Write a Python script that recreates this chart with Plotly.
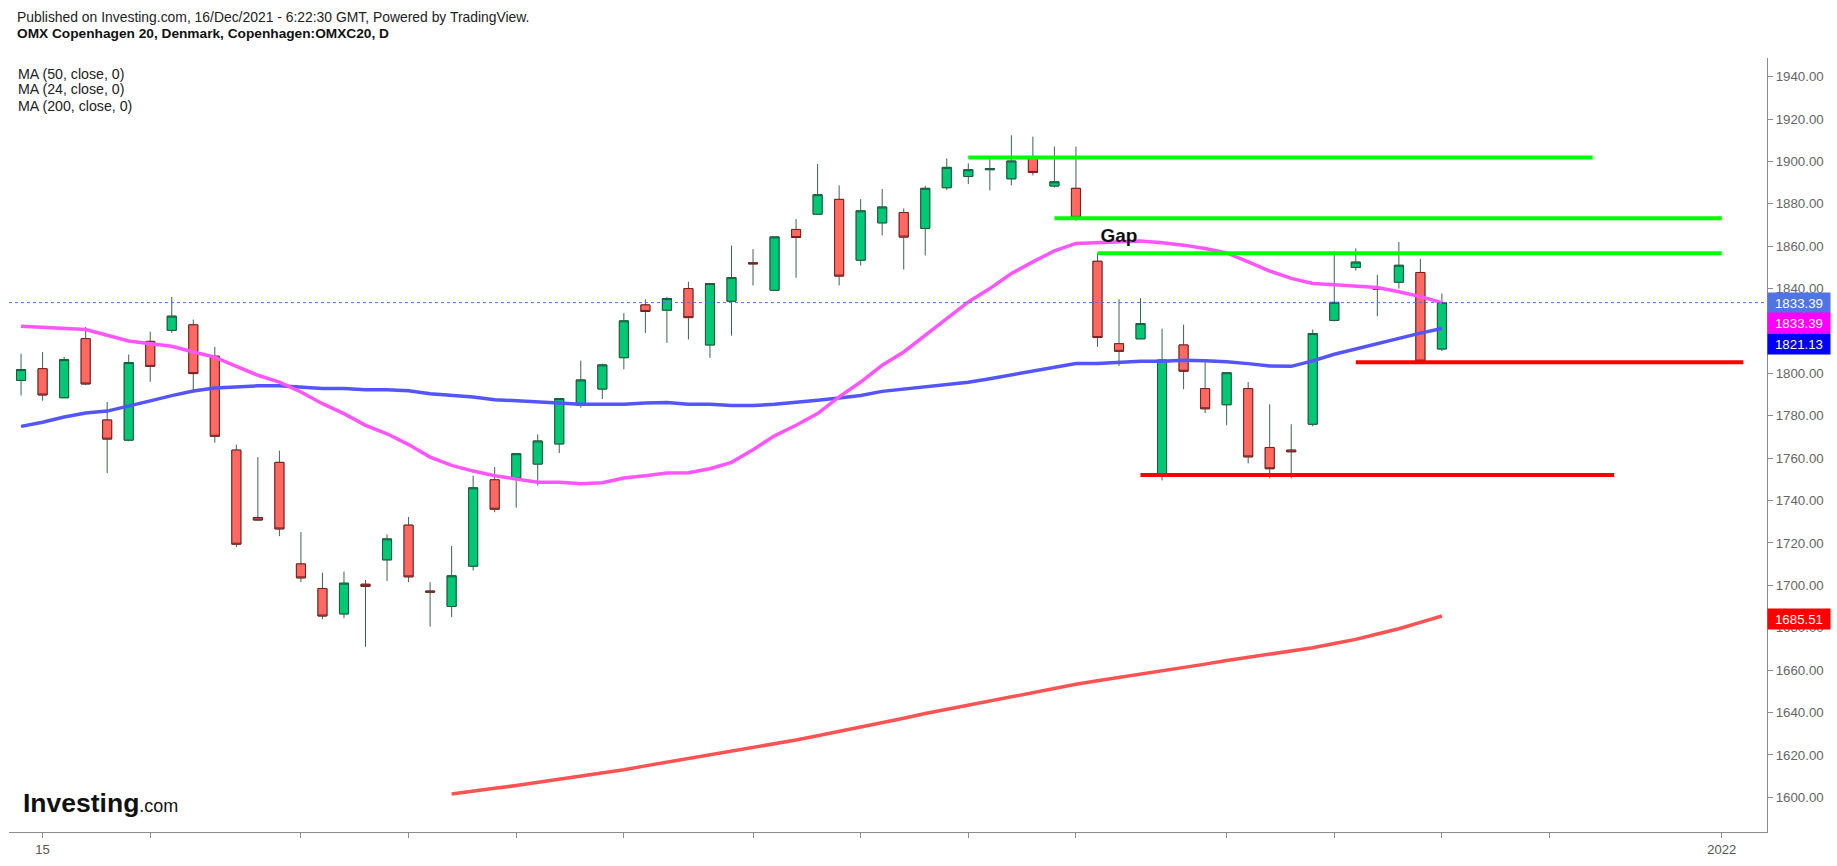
import pandas as pd
import plotly.graph_objects as go

# trading days shown on the chart, plus the empty days to the right of the last candle
dates = pd.bdate_range("2021-09-14", "2021-12-15").strftime("%Y-%m-%d").tolist()
future_dates = pd.bdate_range("2021-12-16", "2022-01-05").strftime("%Y-%m-%d").tolist()

open_ = [1796.7, 1802.2, 1788.5, 1816.4, 1778.0, 1768.5, 1815.1, 1820.3, 1822.9, 1808.1,
         1763.8, 1732.0, 1758.0, 1710.1, 1698.5, 1686.5, 1700.5, 1712.0, 1728.4, 1697.3,
         1690.0, 1709.0, 1749.8, 1750.7, 1757.2, 1766.7, 1784.9, 1792.6, 1807.4, 1832.3,
         1829.8, 1840.0, 1813.4, 1834.0, 1852.2, 1839.2, 1867.9, 1875.1, 1882.1, 1853.4,
         1871.0, 1875.9, 1868.4, 1887.6, 1892.9, 1896.1, 1891.8, 1901.4, 1888.4, 1887.3,
         1852.9, 1814.0, 1816.3, 1752.0, 1813.4, 1792.8, 1785.2, 1792.8, 1765.0, 1763.8,
         1776.0, 1825.0, 1850.0, 1840.3, 1843.0, 1847.6, 1811.5]
high = [1809.3, 1810.1, 1807.8, 1821.9, 1786.5, 1808.9, 1819.7, 1836.1, 1825.4, 1812.5,
        1766.3, 1760.5, 1763.5, 1725.1, 1706.0, 1706.5, 1702.5, 1724.0, 1732.2, 1701.5,
        1718.5, 1751.7, 1755.8, 1762.1, 1771.2, 1788.1, 1806.0, 1804.6, 1828.4, 1835.0,
        1836.1, 1843.2, 1842.4, 1860.3, 1858.6, 1864.4, 1872.8, 1898.8, 1888.7, 1882.2,
        1887.0, 1877.8, 1888.5, 1901.4, 1899.1, 1901.4, 1912.3, 1911.7, 1907.0, 1907.0,
        1856.6, 1835.0, 1835.5, 1821.1, 1823.0, 1805.3, 1800.3, 1795.9, 1785.4, 1776.0,
        1820.7, 1857.5, 1859.0, 1846.5, 1862.0, 1854.0, 1837.7]
low = [1789.5, 1787.1, 1788.3, 1794.4, 1752.9, 1768.0, 1796.0, 1819.1, 1791.2, 1767.3,
       1718.0, 1730.5, 1723.2, 1701.5, 1684.0, 1684.5, 1671.0, 1702.0, 1701.5, 1680.5,
       1685.0, 1707.0, 1734.5, 1736.6, 1747.0, 1762.4, 1783.8, 1787.9, 1801.9, 1819.1,
       1814.4, 1816.0, 1807.3, 1817.8, 1841.5, 1839.2, 1845.1, 1874.7, 1841.5, 1850.9,
       1865.1, 1849.0, 1855.6, 1886.5, 1889.3, 1886.3, 1888.7, 1893.4, 1887.7, 1872.0,
       1812.5, 1803.5, 1816.3, 1749.5, 1792.5, 1781.3, 1775.5, 1757.5, 1750.5, 1750.5,
       1775.0, 1824.5, 1848.5, 1827.0, 1840.0, 1805.0, 1810.5]
close = [1801.8, 1789.8, 1806.5, 1795.0, 1769.0, 1805.1, 1803.3, 1827.0, 1799.9, 1770.3,
         1719.4, 1730.8, 1726.6, 1703.5, 1685.5, 1701.0, 1699.5, 1721.9, 1704.0, 1696.8,
         1704.5, 1746.0, 1735.9, 1762.1, 1768.1, 1788.1, 1796.9, 1804.0, 1824.8, 1829.2,
         1835.3, 1826.3, 1842.4, 1845.2, 1851.7, 1864.4, 1864.1, 1884.3, 1845.9, 1876.7,
         1878.5, 1864.3, 1887.3, 1897.2, 1896.1, 1896.6, 1900.2, 1894.8, 1890.4, 1873.6,
         1816.9, 1810.4, 1823.5, 1806.3, 1801.0, 1783.3, 1800.3, 1760.6, 1755.0, 1763.0,
         1818.8, 1833.5, 1852.5, 1839.8, 1851.0, 1805.8, 1833.39]

ma24 = [1822.2, 1821.6, 1821.1, 1820.7, 1818.0, 1815.3, 1814.0, 1812.8, 1810.1, 1807.7,
        1803.3, 1799.1, 1795.9, 1791.2, 1785.7, 1781.0, 1775.5, 1771.5, 1766.4, 1760.5,
        1756.6, 1753.9, 1751.7, 1750.3, 1748.6, 1748.6, 1747.9, 1748.4, 1750.6, 1751.7,
        1753.0, 1753.1, 1755.0, 1758.0, 1764.0, 1770.5, 1775.5, 1781.0, 1788.9, 1795.9,
        1803.8, 1810.1, 1818.0, 1825.9, 1833.7, 1840.0, 1847.1, 1852.6, 1857.8, 1861.3,
        1861.8, 1862.2, 1862.5, 1861.6, 1860.5, 1858.9, 1856.8, 1852.6, 1848.3, 1844.8,
        1842.4, 1841.8, 1841.3, 1840.5, 1838.5, 1836.2, 1833.39]
ma50 = [1775.0, 1776.9, 1779.4, 1781.3, 1782.2, 1784.4, 1787.0, 1789.5, 1791.7, 1793.1,
        1793.6, 1794.1, 1794.1, 1793.6, 1792.8, 1792.8, 1792.3, 1792.3, 1791.8, 1790.4,
        1789.8, 1788.9, 1787.6, 1787.0, 1786.2, 1785.7, 1785.4, 1785.4, 1785.4, 1786.0,
        1786.2, 1785.4, 1785.4, 1784.8, 1784.8, 1785.4, 1786.2, 1787.3, 1788.4, 1789.6,
        1791.5, 1792.6, 1793.6, 1794.7, 1795.8, 1797.5, 1799.2, 1801.1, 1803.0, 1804.6,
        1804.6, 1805.2, 1805.7, 1805.7, 1806.2, 1805.9, 1805.5, 1804.6, 1803.5, 1803.3,
        1805.9, 1809.0, 1811.5, 1814.0, 1816.8, 1819.0, 1821.13]
# the 200-day average only starts at the 21st candle
ma200_dates = dates[20:]
ma200 = [1601.5, 1603.0, 1604.2, 1605.5, 1607.0, 1608.3, 1610.0, 1611.6, 1613.0, 1614.8,
         1616.5, 1618.2, 1620.0, 1621.7, 1623.5, 1625.3, 1627.0, 1629.0, 1631.0, 1633.0,
         1635.2, 1637.3, 1639.5, 1641.5, 1643.5, 1645.5, 1647.5, 1649.5, 1651.5, 1653.3,
         1655.0, 1656.5, 1658.0, 1659.5, 1661.0, 1662.8, 1664.5, 1666.0, 1667.5, 1669.0,
         1670.5, 1672.5, 1674.5, 1677.0, 1679.5, 1682.5, 1685.51]

# drawn support / resistance levels: (from, to, price)
green_levels = [("2021-11-15", "2021-12-24", 1901.9),
                ("2021-11-19", "2022-01-03", 1873.2),
                ("2021-11-23", "2022-01-03", 1856.7)]
red_levels = [("2021-11-25", "2021-12-27", 1752.0),
              ("2021-12-09", "2022-01-04", 1805.2)]
gap_date, gap_price = "2021-11-24", 1864.4

tick_dates = ["2021-09-15", "2021-09-22", "2021-10-01", "2021-10-08", "2021-10-15",
              "2021-10-22", "2021-11-01", "2021-11-08", "2021-11-15", "2021-11-22",
              "2021-12-01", "2021-12-08", "2021-12-15", "2021-12-22", "2022-01-03"]
tick_text = ["15", "", "", "", "", "", "", "", "", "", "", "", "", "", "2022"]

UP, DOWN = "#00c875", "#ff6961"
UP_EDGE, DOWN_EDGE = "#1d5c3e", "#7a1e1e"
WICK = "#3a6550"

W, H = 1837, 866
L, R, T, B = 9, 70, 58, 32


def px(x):
    return (x - L) / (W - L - R)


def py(y):
    return (H - B - y) / (H - T - B)


fig = go.Figure()

fig.add_trace(go.Scatter(x=ma200_dates, y=ma200, mode="lines", line=dict(color="#ff5252", width=3.5)))
fig.add_trace(go.Scatter(x=dates, y=ma50, mode="lines", line=dict(color="#5555ff", width=3.5)))
fig.add_trace(go.Scatter(x=dates, y=ma24, mode="lines", line=dict(color="#ff55ff", width=3.5)))

# full candles (wicks), then bodies on top with their own outline
fig.add_trace(go.Candlestick(
    x=dates, open=open_, high=high, low=low, close=close,
    increasing=dict(line=dict(color=WICK, width=1), fillcolor=UP),
    decreasing=dict(line=dict(color=WICK, width=1), fillcolor=DOWN),
))
body_hi = [max(o, c) for o, c in zip(open_, close)]
body_lo = [min(o, c) for o, c in zip(open_, close)]
fig.add_trace(go.Candlestick(
    x=dates, open=open_, high=body_hi, low=body_lo, close=close,
    increasing=dict(line=dict(color=UP_EDGE, width=1), fillcolor=UP),
    decreasing=dict(line=dict(color=DOWN_EDGE, width=1), fillcolor=DOWN),
))

for x0, x1, p in green_levels:
    fig.add_trace(go.Scatter(x=[x0, x1], y=[p, p], mode="lines", line=dict(color="#00ff00", width=4)))
for x0, x1, p in red_levels:
    fig.add_trace(go.Scatter(x=[x0, x1], y=[p, p], mode="lines", line=dict(color="#ff0000", width=4)))

fig.add_trace(go.Scatter(x=[gap_date], y=[gap_price], mode="text", text=["<b>Gap</b>"],
                         textposition="middle center", textfont=dict(size=19, color="#111")))

# last price line
fig.add_shape(type="line", xref="paper", x0=0, x1=1, y0=close[-1], y1=close[-1],
              line=dict(color="#4a6fe3", width=1, dash="dot"))

annotations = [
    dict(text="Published on Investing.com, 16/Dec/2021 - 6:22:30 GMT, Powered by TradingView.",
         x=px(15), y=py(17), font=dict(size=13.9, color="#222")),
    dict(text="<b>OMX Copenhagen 20, Denmark, Copenhagen:OMXC20, D</b>",
         x=px(15), y=py(33), font=dict(size=13.7, color="#111")),
    dict(text="MA (50, close, 0)", x=px(16), y=py(74), font=dict(size=14.2, color="#222")),
    dict(text="MA (24, close, 0)", x=px(16), y=py(89.5), font=dict(size=14.2, color="#222")),
    dict(text="MA (200, close, 0)", x=px(16), y=py(106), font=dict(size=14.2, color="#222")),
    dict(text="<b>Investing</b><span style='font-size:18px'>.com</span>",
         x=px(21), y=py(805), font=dict(size=26.5, color="#111")),
]
for a in annotations:
    a.update(xref="paper", yref="paper", xanchor="left", yanchor="middle", showarrow=False)

# value tags on the price scale
tags = [(close[-1], "#4f74e3", 0), (ma24[-1], "#ff00ff", -20),
        (ma50[-1], "#0000ff", -15), (ma200[-1], "#ff0000", -3)]
for v, col, shift in tags:
    annotations.append(dict(text=f"{v:.2f}", xref="paper", yref="y", x=1, y=v, xanchor="left",
                            yanchor="middle", yshift=shift, showarrow=False, bgcolor=col,
                            width=58, height=16, borderpad=2, align="center",
                            font=dict(size=13.3, color="white")))

fig.update_layout(
    width=W, height=H,
    margin=dict(l=L, r=R, t=T, b=B, pad=0),
    paper_bgcolor="white", plot_bgcolor="white",
    showlegend=False, boxgap=0.4, hovermode=False,
    font=dict(family="Arial, 'Liberation Sans', sans-serif", color="#222"),
    xaxis=dict(type="category", categoryorder="array", categoryarray=dates + future_dates,
               range=[-0.56, 81.1], rangeslider=dict(visible=False),
               showgrid=False, zeroline=False, showline=True, linecolor="#8c8c8c",
               ticks="outside", ticklen=5, tickcolor="#8c8c8c",
               tickmode="array", tickvals=tick_dates, ticktext=tick_text,
               tickfont=dict(size=13, color="#555")),
    yaxis=dict(side="right", range=[1583.6, 1948.8], tick0=1600, dtick=20, tickformat=".2f",
               showgrid=False, zeroline=False, showline=True, linecolor="#8c8c8c",
               ticks="outside", ticklen=5, tickcolor="#8c8c8c",
               tickfont=dict(size=13.3, color="#666")),
    annotations=annotations,
)

fig.write_html("out.html", config={"displayModeBar": False},
               post_script="document.body.style.margin='0';")
